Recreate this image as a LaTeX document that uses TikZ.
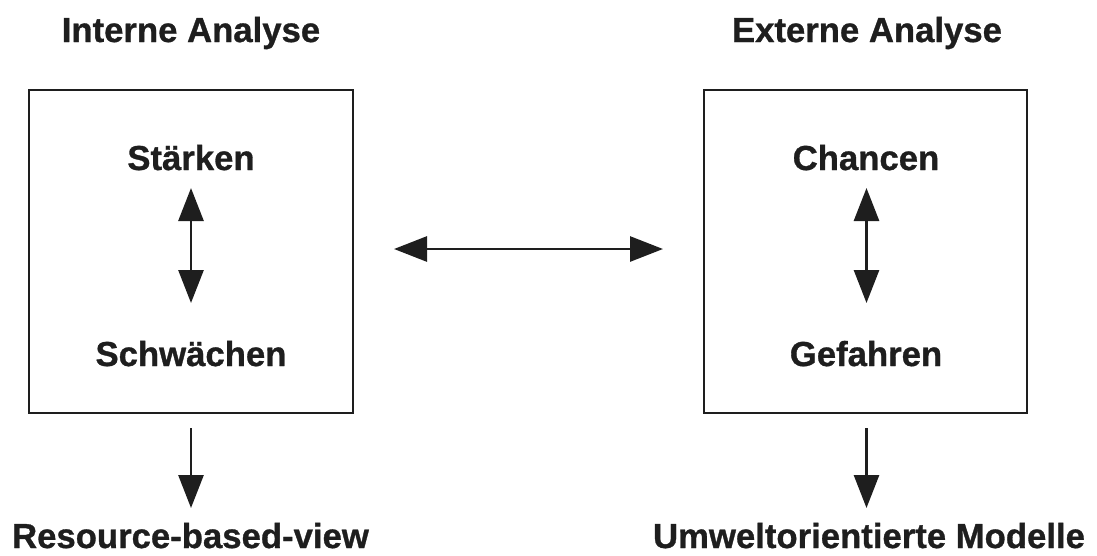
\documentclass[tikz,border=0pt]{standalone}
\usepackage{fontspec}
\setmainfont{Liberation Sans}[BoldFeatures={FakeBold=0.9}]
\usetikzlibrary{arrows.meta}
\definecolor{ink}{RGB}{30,30,30}
\tikzset{
  label text/.style={font=\fontsize{34.7}{40}\selectfont\bfseries, text=ink, inner sep=0pt, anchor=base},
  frame/.style={draw=ink, line width=2.6pt, inner sep=0pt},
  link/.style={draw=ink, line width=2.8pt},
  twoway/.style={link, {Triangle[length=33pt,width=25pt]}-{Triangle[length=33pt,width=25pt]}},
  oneway/.style={link, -{Triangle[length=33pt,width=25pt]}}
}
\begin{document}
\begin{tikzpicture}[x=1pt, y=-1pt]
  \useasboundingbox (0,0) rectangle (1097,555);

  % column headings
  \node[label text] (hin) at (191,42) {Interne Analyse};
  \node[label text] (hex) at (867,42) {Externe Analyse};

  % the two analysis boxes
  \node[frame, minimum width=324pt, minimum height=323pt] (boxin) at (191,251.5) {};
  \node[frame, minimum width=323pt, minimum height=323pt] (boxex) at (865.5,251.5) {};

  % box contents
  \node[label text] (st) at (191,170) {Stärken};
  \node[label text] (sw) at (191,366) {Schwächen};
  \node[label text] (ch) at (866,170) {Chancen};
  \node[label text] (gf) at (866,366) {Gefahren};

  % results below the boxes
  \node[label text] (rbv) at (190.5,548) {Resource-based-view};
  \node[label text] (umw) at (869,548) {Umweltorientierte Modelle};

  % connector end points
  \coordinate (stA) at (191,188);
  \coordinate (swA) at (191,303);
  \coordinate (chA) at (866.5,188);
  \coordinate (gfA) at (866.5,303);
  \coordinate (midL) at (394,249);
  \coordinate (midR) at (663,249);
  \coordinate (inOut) at (191,428);
  \coordinate (rbvIn) at (191,508);
  \coordinate (exOut) at (866.5,428);
  \coordinate (umwIn) at (866.5,508);

  % connectors
  \draw[twoway] (stA) -- (swA);
  \draw[twoway] (chA) -- (gfA);
  \draw[twoway] (midL) -- (midR);
  \draw[oneway] (inOut) -- (rbvIn);
  \draw[oneway] (exOut) -- (umwIn);
\end{tikzpicture}
\end{document}
